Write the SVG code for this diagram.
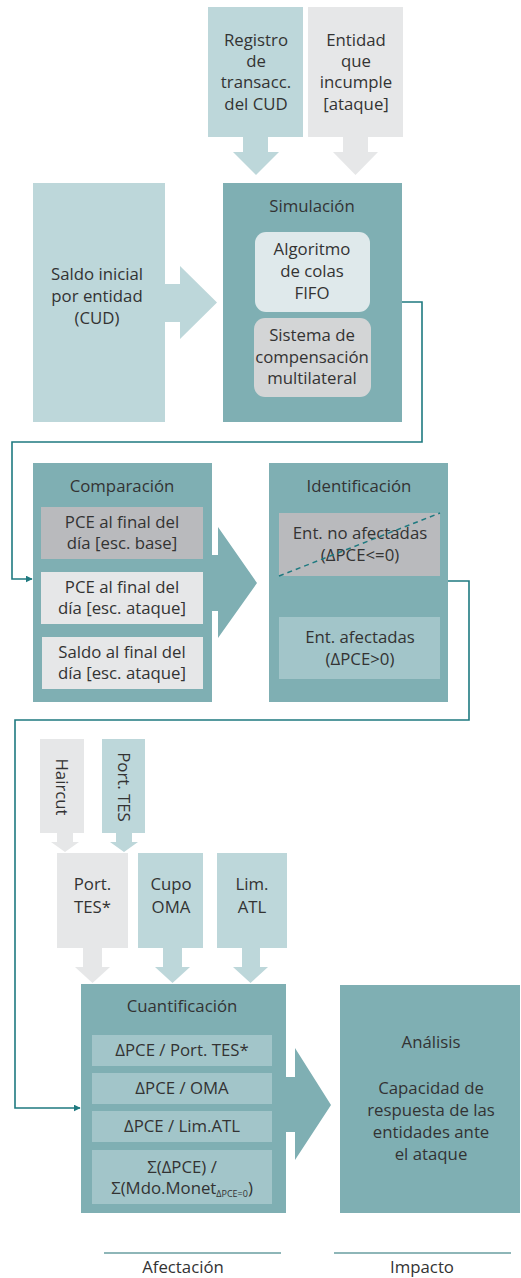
<svg xmlns="http://www.w3.org/2000/svg" width="521" height="1278" viewBox="0 0 521 1278">
<defs>
<style>
text{font-family:"Open Sans","Liberation Sans",sans-serif;font-size:16.8px;fill:#333;text-anchor:middle}
.t{fill:#7fafb3}
.lt{fill:#bdd7da}
.lg{fill:#e6e7e8}
.mg{fill:#b9babd}
.st{fill:#a2c5c9}
.conn{fill:none;stroke:#1f7a80;stroke-width:1.6}
</style>
<marker id="ah" viewBox="0 0 10 10" refX="9" refY="5" markerWidth="7" markerHeight="7" markerUnits="userSpaceOnUse" orient="auto">
<path d="M0,0 L10,5 L0,10 z" fill="#1f7a80"/>
</marker>
</defs>
<rect width="521" height="1278" fill="#fff"/>

<g id="registro">
<rect class="lt" x="208" y="7" width="95" height="130"/>
<path class="lt" d="M243,137 H268 V152 H279 L256,175 L233,152 H243 Z"/>
<text x="256" y="46">Registro</text>
<text x="256" y="67">de</text>
<text x="256" y="88">transacc.</text>
<text x="256" y="110">del CUD</text>
</g>

<g id="entidad">
<rect class="lg" x="308" y="7" width="95" height="130"/>
<path class="lg" d="M343,137 H368 V152 H378 L355.5,175 L333,152 H343 Z"/>
<text x="356" y="46">Entidad</text>
<text x="356" y="67">que</text>
<text x="356" y="88">incumple</text>
<text x="356" y="110">[ataque]</text>
</g>

<g id="saldo">
<rect class="lt" x="33" y="183" width="132" height="239"/>
<path class="lt" d="M165,284 H180 V266 L217,302.5 L180,339 V322 H165 Z"/>
<text x="97" y="280">Saldo inicial</text>
<text x="97" y="302">por entidad</text>
<text x="97" y="324">(CUD)</text>
</g>

<g id="simulacion">
<rect class="t" x="223" y="183" width="179" height="239"/>
<text x="312" y="212">Simulación</text>
<rect x="255" y="232" width="115" height="80" rx="11" fill="#dfe9eb"/>
<text x="312" y="255">Algoritmo</text>
<text x="312" y="277">de colas</text>
<text x="312" y="299">FIFO</text>
<rect x="254" y="318" width="117" height="79" rx="11" fill="#d3d5d6"/>
<text x="312" y="341">Sistema de</text>
<text x="312" y="363">compensación</text>
<text x="312" y="384">multilateral</text>
</g>

<g id="comparacion">
<rect class="t" x="33" y="463" width="179" height="239"/>
<path class="t" d="M212,555 H218 V527 L257,583 L218,638 V611 H212 Z"/>
<text x="122" y="492">Comparación</text>
<rect class="mg" x="41" y="507" width="162" height="52"/>
<text x="122" y="528">PCE al final del</text>
<text x="122" y="549">día [esc. base]</text>
<rect class="lg" x="41" y="572" width="162" height="52"/>
<text x="122" y="593">PCE al final del</text>
<text x="122" y="614">día [esc. ataque]</text>
<rect class="lg" x="42" y="637" width="161" height="52"/>
<text x="122" y="658">Saldo al final del</text>
<text x="122" y="679">día [esc. ataque]</text>
</g>

<g id="identificacion">
<rect class="t" x="269" y="463" width="179" height="239"/>
<text x="359" y="492">Identificación</text>
<rect class="mg" x="279" y="513" width="161" height="63"/>
<text x="360" y="539">Ent. no afectadas</text>
<text x="360" y="561">(ΔPCE&lt;=0)</text>
<line x1="279" y1="576" x2="440" y2="513" stroke="#1f7a80" stroke-width="1.5" stroke-dasharray="5,4"/>
<rect class="st" x="279" y="617" width="161" height="62"/>
<text x="360" y="643">Ent. afectadas</text>
<text x="360" y="665">(ΔPCE&gt;0)</text>
</g>

<g id="haircut">
<rect class="lg" x="40" y="739" width="44" height="94"/>
<path class="lg" d="M57,833 H73 V842 H79 L65,852 L51,842 H57 Z"/>
<text transform="translate(56,787) rotate(90)">Haircut</text>
</g>

<g id="porttes">
<rect class="lt" x="102" y="739" width="43" height="94"/>
<path class="lt" d="M116,833 H132 V842 H138 L124,852 L110,842 H116 Z"/>
<text transform="translate(118,787) rotate(90)">Port. TES</text>
</g>

<g id="porttesstar">
<rect class="lg" x="57" y="853" width="71" height="95"/>
<path class="lg" d="M83,948 H102 V967 H110 L92.5,983 L75,967 H83 Z"/>
<text x="92.5" y="890">Port.</text>
<text x="92.5" y="913">TES*</text>
</g>

<g id="cupooma">
<rect class="lt" x="138" y="853" width="65" height="95"/>
<path class="lt" d="M163,948 H182 V967 H190 L172.5,983 L155,967 H163 Z"/>
<text x="171" y="890">Cupo</text>
<text x="171" y="913">OMA</text>
</g>

<g id="limatl">
<rect class="lt" x="217" y="853" width="70" height="95"/>
<path class="lt" d="M242,948 H260 V967 H268 L250.5,983 L233,967 H242 Z"/>
<text x="252" y="890">Lim.</text>
<text x="252" y="913">ATL</text>
</g>

<g id="cuantificacion">
<rect class="t" x="81" y="984" width="205" height="229"/>
<path class="t" d="M286,1077 H295 V1048 L331,1105 L295,1160 V1132 H286 Z"/>
<text x="182" y="1012">Cuantificación</text>
<rect class="st" x="92" y="1035" width="180" height="31"/>
<text x="182" y="1056">ΔPCE / Port. TES*</text>
<rect class="st" x="92" y="1073" width="180" height="31"/>
<text x="182" y="1094">ΔPCE / OMA</text>
<rect class="st" x="92" y="1111" width="180" height="31"/>
<text x="182" y="1132">ΔPCE / Lim.ATL</text>
<rect class="st" x="92" y="1150" width="180" height="54"/>
<text x="182" y="1173">Σ(ΔPCE) /</text>
<text x="182" y="1194">Σ(Mdo.Monet<tspan font-size="9" dy="3">ΔPCE=0</tspan><tspan dy="-3">)</tspan></text>
</g>

<g id="analisis">
<rect class="t" x="340" y="985" width="180" height="228"/>
<text x="431" y="1048">Análisis</text>
<text x="431" y="1094">Capacidad de</text>
<text x="431" y="1116">respuesta de las</text>
<text x="431" y="1138">entidades ante</text>
<text x="431" y="1160">el ataque</text>
</g>

<g id="afectacion">
<line x1="104" y1="1253" x2="281" y2="1253" stroke="#1f6e72" stroke-width="1.2"/>
<text x="183" y="1273">Afectación</text>
</g>

<g id="impacto">
<line x1="334" y1="1253" x2="511" y2="1253" stroke="#1f6e72" stroke-width="1.2"/>
<text x="422" y="1273">Impacto</text>
</g>

<g id="connectors">
<path class="conn" d="M402,302 H422 V442 H12 V579 H32" marker-end="url(#ah)"/>
<path class="conn" d="M448,581 H469 V720 H15 V1108 H80" marker-end="url(#ah)"/>
</g>
</svg>
